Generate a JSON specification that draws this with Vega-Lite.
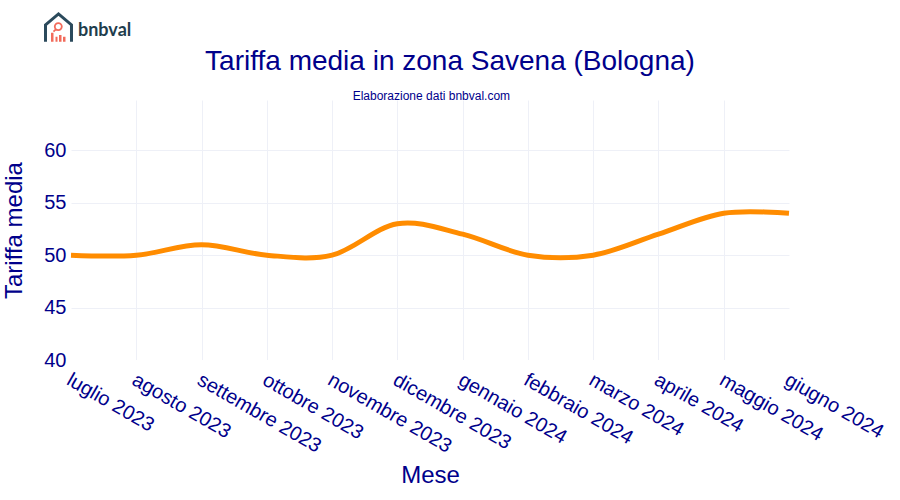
{
  "$schema": "https://vega.github.io/schema/vega-lite/v6.json",
  "width": 718,
  "height": 260,
  "padding": {"left": 71, "top": 100, "right": 111, "bottom": 140},
  "autosize": "none",
  "background": "white",
  "config": {
    "font": "Liberation Sans",
    "view": {"stroke": null},
    "axis": {"labelColor": "#00008b", "titleColor": "#00008b", "titleFontWeight": "normal", "gridWidth": 1, "domain": false, "ticks": false}
  },
  "title": {
    "text": "Tariffa media in zona Savena (Bologna)",
    "anchor": "middle",
    "fontSize": 28,
    "fontWeight": "normal",
    "color": "#00008b",
    "dx": 20,
    "offset": -68
  },
  "data": {
    "values": [
      {"Mese": "luglio 2023", "Tariffa": 50},
      {"Mese": "agosto 2023", "Tariffa": 50},
      {"Mese": "settembre 2023", "Tariffa": 51},
      {"Mese": "ottobre 2023", "Tariffa": 50},
      {"Mese": "novembre 2023", "Tariffa": 50},
      {"Mese": "dicembre 2023", "Tariffa": 53},
      {"Mese": "gennaio 2024", "Tariffa": 52},
      {"Mese": "febbraio 2024", "Tariffa": 50},
      {"Mese": "marzo 2024", "Tariffa": 50},
      {"Mese": "aprile 2024", "Tariffa": 52},
      {"Mese": "maggio 2024", "Tariffa": 54},
      {"Mese": "giugno 2024", "Tariffa": 54}
    ]
  },
  "layer": [
    {
      "mark": {"type": "line", "color": "#ff8c00", "strokeWidth": 5, "interpolate": "cardinal", "tension": 0, "clip": false},
      "encoding": {
        "x": {
          "field": "Mese",
          "type": "ordinal",
          "scale": {
            "type": "point",
            "padding": 0,
            "domain": ["luglio 2023", "agosto 2023", "settembre 2023", "ottobre 2023", "novembre 2023", "dicembre 2023", "gennaio 2024", "febbraio 2024", "marzo 2024", "aprile 2024", "maggio 2024", "giugno 2024"]
          },
          "axis": {
            "title": "Mese",
            "titleFontSize": 24,
            "labelFontSize": 20,
            "labelAngle": 30,
            "labelAlign": "left",
            "labelBaseline": "middle",
            "labelPadding": 18,
            "labelOffset": -3,
            "titlePadding": 7,
            "grid": true,
            "gridColor": {"condition": {"test": "datum.value === 'luglio 2023' || datum.value === 'giugno 2024'", "value": "white"}, "value": "#eef0f7"},
            "labelOverlap": false,
            "labelFlush": false
          }
        },
        "y": {
          "field": "Tariffa",
          "type": "quantitative",
          "scale": {"domain": [40, 64.8], "nice": false, "zero": false},
          "axis": {
            "title": "Tariffa media",
            "titleFontSize": 24,
            "labelFontSize": 20,
            "labelPadding": 5,
            "titlePadding": 17,
            "values": [40, 45, 50, 55, 60],
            "grid": true,
            "gridColor": {"condition": {"test": "datum.value === 40", "value": "white"}, "value": "#eef0f7"}
          }
        }
      }
    },
    {
      "data": {"values": [{"Testo": "Elaborazione dati bnbval.com"}]},
      "mark": {"type": "text", "fontSize": 12, "color": "#00008b", "align": "center", "baseline": "middle", "dx": 34, "clip": false},
      "encoding": {
        "x": {"datum": "dicembre 2023", "type": "ordinal"},
        "y": {"datum": 65.2, "type": "quantitative"},
        "text": {"field": "Testo"}
      }
    },
    {
      "data": {"values": [{"Testo": "bnbval"}]},
      "mark": {"type": "text", "font": "Lato", "fontWeight": "bold", "fontSize": 18, "color": "#1f3d4d", "align": "left", "baseline": "alphabetic", "dx": 7, "clip": false},
      "encoding": {
        "x": {"datum": "luglio 2023", "type": "ordinal"},
        "y": {"datum": 70.9, "type": "quantitative"},
        "text": {"field": "Testo"}
      }
    },
    {
      "data": {"values": [{"Testo": "logo"}]},
      "mark": {
        "type": "point",
        "filled": false,
        "size": 900,
        "opacity": 1,
        "clip": false,
        "stroke": "#2b4a5c",
        "strokeWidth": 3,
        "shape": "M-1.7,0.933 L-1.7,-0.2 L-0.833,-0.933 L0.033,-0.2 L0.033,0.933"
      },
      "encoding": {
        "x": {"datum": "luglio 2023", "type": "ordinal"},
        "y": {"datum": 71.68, "type": "quantitative"}
      }
    },
    {
      "data": {"values": [{"Testo": "logo"}]},
      "mark": {
        "type": "point",
        "filled": true,
        "size": 900,
        "opacity": 1,
        "clip": false,
        "fill": "#f26b5b",
        "shape": "M-1.333,0.333 L-1.167,0.333 L-1.167,0.933 L-1.333,0.933 Z M-1.033,0.6 L-0.9,0.6 L-0.9,0.933 L-1.033,0.933 Z M-0.8,0.467 L-0.633,0.467 L-0.633,0.933 L-0.8,0.933 Z M-0.533,0.6 L-0.367,0.6 L-0.367,0.933 L-0.533,0.933 Z"
      },
      "encoding": {
        "x": {"datum": "luglio 2023", "type": "ordinal"},
        "y": {"datum": 71.68, "type": "quantitative"}
      }
    },
    {
      "data": {"values": [{"Testo": "logo"}]},
      "mark": {
        "type": "point",
        "filled": false,
        "size": 900,
        "opacity": 1,
        "clip": false,
        "stroke": "#f26b5b",
        "strokeWidth": 1.8,
        "shape": "M-1.08,-0.087 C-1.08,-0.216 -0.976,-0.32 -0.847,-0.32 C-0.718,-0.32 -0.614,-0.216 -0.614,-0.087 C-0.614,0.042 -0.718,0.146 -0.847,0.146 C-0.976,0.146 -1.08,0.042 -1.08,-0.087 Z M-1.0,0.08 L-1.167,0.247"
      },
      "encoding": {
        "x": {"datum": "luglio 2023", "type": "ordinal"},
        "y": {"datum": 71.68, "type": "quantitative"}
      }
    }
  ]
}
